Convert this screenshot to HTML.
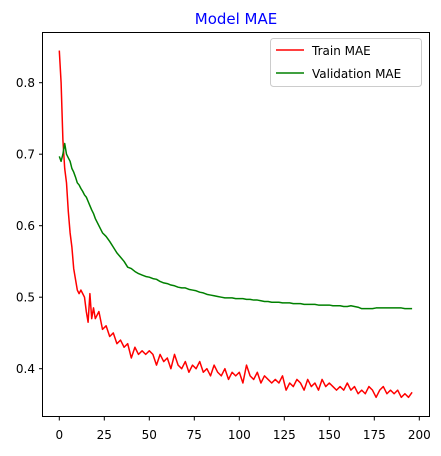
<!DOCTYPE html>
<html><head><meta charset="utf-8"><style>
body{margin:0;background:#fff;}
svg text{font-family:"DejaVu Sans","Liberation Sans",sans-serif;}
</style></head><body>
<svg id="chart" width="441" height="451" xmlns="http://www.w3.org/2000/svg">
<rect width="441" height="451" fill="#fff"/>
<text x="236" y="24" text-anchor="middle" font-size="15" fill="blue">Model MAE</text>
<g id="ticks"></g>
<g id="lines"></g>
<rect x="42.5" y="32.5" width="387" height="384" fill="none" stroke="#000" stroke-width="1"/>
<g>
<rect x="270.5" y="38.5" width="151" height="48" rx="3" fill="#fff" stroke="#ccc"/>
<line x1="276" y1="50" x2="304" y2="50" stroke="red" stroke-width="1.5"/>
<text x="312" y="55" font-size="12">Train MAE</text>
<line x1="276" y1="73" x2="304" y2="73" stroke="green" stroke-width="1.5"/>
<text x="312" y="78" font-size="12">Validation MAE</text>
</g>
</svg>
<script>
const epochs=[0,1,2,3,4,5,6,7,8,9,10,11,12,13,14,15,16,17,18,19,20,22,24,26,28,30,32,34,36,38,40,42,44,46,48,50,52,54,56,58,60,62,64,66,68,70,72,74,76,78,80,82,84,86,88,90,92,94,96,98,100,102,104,106,108,110,112,114,116,118,120,122,124,126,128,130,132,134,136,138,140,142,144,146,148,150,152,154,156,158,160,162,164,166,168,170,172,174,176,178,180,182,184,186,188,190,192,194,196];
const trainMAE=[0.845,0.80,0.72,0.68,0.66,0.62,0.59,0.57,0.54,0.525,0.51,0.505,0.51,0.505,0.50,0.48,0.465,0.505,0.47,0.485,0.47,0.48,0.455,0.46,0.445,0.45,0.435,0.44,0.43,0.435,0.415,0.43,0.42,0.425,0.42,0.425,0.42,0.405,0.42,0.41,0.415,0.40,0.42,0.405,0.40,0.41,0.395,0.405,0.40,0.41,0.395,0.40,0.39,0.405,0.395,0.39,0.40,0.385,0.395,0.39,0.395,0.38,0.405,0.39,0.385,0.395,0.38,0.39,0.385,0.38,0.385,0.38,0.39,0.37,0.38,0.375,0.385,0.38,0.37,0.385,0.375,0.38,0.37,0.385,0.375,0.38,0.375,0.37,0.375,0.37,0.38,0.37,0.375,0.365,0.37,0.365,0.375,0.37,0.36,0.37,0.375,0.365,0.37,0.365,0.37,0.36,0.365,0.36,0.367];
const valMAE=[0.697,0.69,0.70,0.715,0.70,0.695,0.69,0.68,0.675,0.668,0.66,0.657,0.652,0.648,0.643,0.64,0.634,0.628,0.622,0.617,0.61,0.60,0.59,0.585,0.578,0.57,0.562,0.556,0.55,0.542,0.54,0.536,0.533,0.531,0.529,0.528,0.526,0.525,0.522,0.52,0.519,0.517,0.516,0.514,0.513,0.513,0.511,0.51,0.509,0.507,0.506,0.504,0.503,0.502,0.501,0.5,0.499,0.499,0.499,0.498,0.498,0.498,0.497,0.497,0.496,0.496,0.495,0.494,0.494,0.493,0.493,0.493,0.492,0.492,0.492,0.491,0.491,0.491,0.49,0.49,0.49,0.49,0.489,0.489,0.489,0.489,0.488,0.488,0.488,0.487,0.487,0.488,0.487,0.486,0.484,0.484,0.484,0.484,0.485,0.485,0.485,0.485,0.485,0.485,0.485,0.485,0.484,0.484,0.484];
const xTicks=[0,25,50,75,100,125,150,175,200];
const yTicks=[0.4,0.5,0.6,0.7,0.8];
const NS="http://www.w3.org/2000/svg";
function xs(v){return 59.3+v*1.8;}
function ys(v){return 368.7-(v-0.4)*715;}
const tg=document.getElementById('ticks'), lg=document.getElementById('lines');
xTicks.forEach(t=>{
 const l=document.createElementNS(NS,'line');
 
 
 l.setAttribute('x1',xs(t));l.setAttribute('x2',xs(t));l.setAttribute('y1',417);l.setAttribute('y2',420.5);l.setAttribute('stroke','#000');
 tg.appendChild(l);
 const tx=document.createElementNS(NS,'text');
 
 
 tx.setAttribute('x',xs(t));tx.setAttribute('y',439);tx.setAttribute('text-anchor','middle');tx.setAttribute('font-size','12');
 tx.textContent=t;tg.appendChild(tx);
});
yTicks.forEach(t=>{
 const l=document.createElementNS(NS,'line');
 
 
 l.setAttribute('x1',39);l.setAttribute('x2',42.5);l.setAttribute('y1',ys(t));l.setAttribute('y2',ys(t));l.setAttribute('stroke','#000');
 tg.appendChild(l);
 const tx=document.createElementNS(NS,'text');
 
 
 tx.setAttribute('x',35);tx.setAttribute('y',ys(t)+4.5);tx.setAttribute('text-anchor','end');tx.setAttribute('font-size','12');
 tx.textContent=t.toFixed(1);tg.appendChild(tx);
});
function series(vals,color,name){
 const p=document.createElementNS(NS,'polyline');
 
 
 p.setAttribute('points',vals.map((v,i)=>xs(epochs[i])+','+ys(v)).join(' '));
 p.setAttribute('fill','none');p.setAttribute('stroke',color);p.setAttribute('stroke-width','1.5');p.setAttribute('stroke-linejoin','round');
 lg.appendChild(p);
}
series(trainMAE,'red','train-mae-line');
series(valMAE,'green','validation-mae-line');
</script>
</body></html>
